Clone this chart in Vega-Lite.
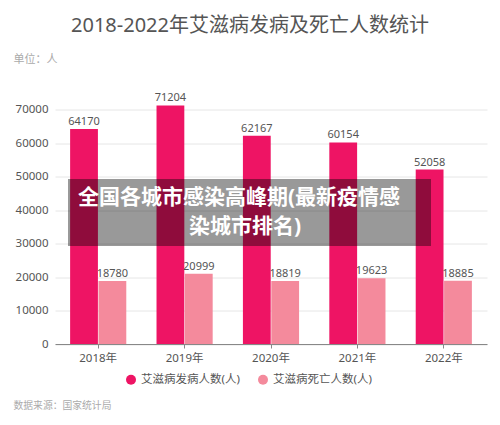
{
  "$schema": "https://vega.github.io/schema/vega-lite/v6.json",
  "autosize": {"type": "none"},
  "padding": {"left": 55, "top": 109.5, "right": 13, "bottom": 81},
  "width": 432,
  "height": 234.5,
  "background": "white",
  "config": {
    "font": "Noto Sans, Noto Sans CJK SC",
    "view": {"stroke": null}
  },
  "title": {
    "text": "2018-2022年艾滋病发病及死亡人数统计",
    "anchor": "middle",
    "frame": "group",
    "fontSize": 20,
    "fontWeight": "normal",
    "color": "#555555",
    "dx": -21,
    "offset": 18
  },
  "encoding": {
    "y": {
      "field": "value",
      "type": "quantitative",
      "title": "单位：人",
      "scale": {"domain": [0, 70000], "nice": false},
      "axis": {
        "values": [0, 10000, 20000, 30000, 40000, 50000, 60000, 70000],
        "format": "d",
        "labelOverlap": false,
        "labelFontSize": 11.5,
        "labelColor": "#555555",
        "labelPadding": 7,
        "domain": false,
        "ticks": false,
        "gridColor": "#e6e6e6",
        "titleAngle": 0,
        "titleFontSize": 11,
        "titleFontWeight": "normal",
        "titleColor": "#aaaaaa",
        "titleAlign": "left",
        "titleBaseline": "middle",
        "titleX": -42,
        "titleY": -50
      }
    }
  },
  "layer": [
    {
      "data": {
        "values": [
          {"year": "2018年", "series": "艾滋病发病人数(人)", "value": 64170},
          {"year": "2018年", "series": "艾滋病死亡人数(人)", "value": 18780},
          {"year": "2019年", "series": "艾滋病发病人数(人)", "value": 71204},
          {"year": "2019年", "series": "艾滋病死亡人数(人)", "value": 20999},
          {"year": "2020年", "series": "艾滋病发病人数(人)", "value": 62167},
          {"year": "2020年", "series": "艾滋病死亡人数(人)", "value": 18819},
          {"year": "2021年", "series": "艾滋病发病人数(人)", "value": 60154},
          {"year": "2021年", "series": "艾滋病死亡人数(人)", "value": 19623},
          {"year": "2022年", "series": "艾滋病发病人数(人)", "value": 52058},
          {"year": "2022年", "series": "艾滋病死亡人数(人)", "value": 18885}
        ]
      },
      "encoding": {
        "x": {
          "field": "year",
          "type": "nominal",
          "title": "数据来源：国家统计局",
          "scale": {"paddingInner": 0.35, "paddingOuter": 0.175},
          "axis": {
            "labelAngle": 0,
            "labelFontSize": 11.5,
            "labelColor": "#555555",
            "labelPadding": 4,
            "domainColor": "#888888",
            "tickColor": "#888888",
            "tickSize": 4,
            "titleFontSize": 9.8,
            "titleFontWeight": "normal",
            "titleColor": "#aaaaaa",
            "titleAnchor": "start",
            "titleAlign": "left",
            "titleBaseline": "middle",
            "titleX": -42,
            "titleY": 61
          }
        },
        "xOffset": {
          "field": "series",
          "type": "nominal",
          "scale": {"paddingInner": 0.02, "paddingOuter": 0}
        }
      },
      "layer": [
        {
          "mark": {"type": "bar"},
          "encoding": {
            "color": {
              "field": "series",
              "type": "nominal",
              "title": null,
              "scale": {"range": ["#ee1464", "#f48a9c"]},
              "legend": {
                "orient": "none",
                "direction": "horizontal",
                "legendX": 70,
                "legendY": 264,
                "symbolType": "circle",
                "symbolSize": 100,
                "labelFontSize": 11.5,
                "labelColor": "#555555",
                "columnPadding": 17
              }
            }
          }
        },
        {
          "mark": {"type": "text", "baseline": "bottom", "dy": -2, "fontSize": 11, "color": "#555555"},
          "encoding": {"text": {"field": "value", "type": "quantitative", "format": "d"}}
        }
      ]
    },
    {
      "data": {"values": [{"from": 13, "to": 376, "value": 49250, "value2": 29250}]},
      "mark": {"type": "rect", "color": "#000000", "opacity": 0.4},
      "encoding": {
        "x": {"field": "from", "type": "quantitative", "scale": {"domain": [0, 432]}, "axis": null},
        "x2": {"field": "to"},
        "y2": {"field": "value2"}
      }
    },
    {
      "data": {
        "values": [
          {"line": "全国各城市感染高峰期(最新疫情感", "at": 184, "value": 43700},
          {"line": "染城市排名)", "at": 190, "value": 35000}
        ]
      },
      "mark": {"type": "text", "fontSize": 21, "fontWeight": "bold", "color": "white"},
      "encoding": {
        "x": {"field": "at", "type": "quantitative", "scale": {"domain": [0, 432]}, "axis": null},
        "text": {"field": "line", "type": "nominal"}
      }
    }
  ],
  "resolve": {"scale": {"x": "independent"}}
}
